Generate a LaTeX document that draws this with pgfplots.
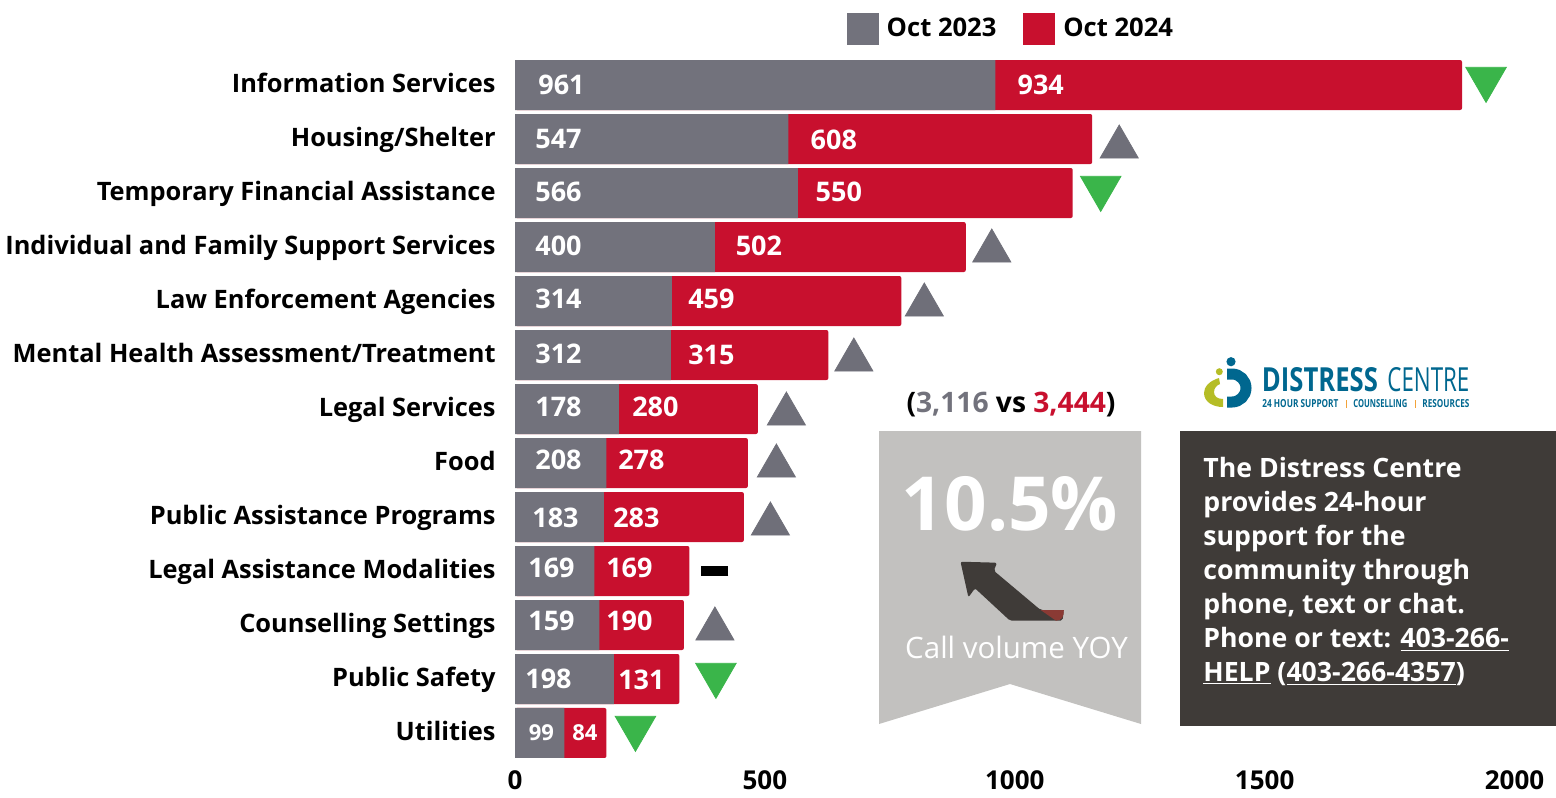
\documentclass[border=0pt]{standalone}
\usepackage{fontspec}
\setmainfont{Open Sans}
\usepackage{pgfplots}
\usepackage{pgfplotstable}
\pgfplotsset{compat=1.18}
\definecolor{oldbar}{HTML}{72727C}
\definecolor{newbar}{HTML}{C8102E}
\definecolor{upgray}{HTML}{6F6F79}
\definecolor{downgreen}{HTML}{3AB54A}
\definecolor{darkbox}{HTML}{3F3B38}
\definecolor{ribbon}{HTML}{C2C1BF}
\definecolor{logoblue}{HTML}{00678F}
\definecolor{logogreen}{HTML}{B5BD26}
\definecolor{logoorange}{HTML}{F2A33A}
\newcommand{\fs}[1]{\fontsize{#1}{#1}\selectfont}

% row: 0 = top. bar lengths as drawn (rows 6-10 do not follow their printed labels)
\pgfplotstableread{
row old new
0 961 934
1 547 608
2 566 550
3 400 502
4 314 459
5 312 315
6 208 278
7 183 283
8 178 280
9 159 190
10 169 169
11 198 131
12 99 84
}\calls

% value labels, x and y where the text sits
\pgfplotstableread{
x y label
93 0 961
87 1 547
87 1.98 566
87 2.98 400
87 3.96 314
87 4.98 312
87 5.96 178
87 6.945 208
81 8.02 183
73 8.945 169
73 9.925 159
67 11 198
}\oldlabels
\pgfplotstableread{
x y label
1052 0 934
638 1.02 608
648 1.98 550
488 2.98 502
393 3.96 459
393 5 315
281 5.96 280
253 6.945 278
243 8.02 283
229 8.945 169
229 9.925 190
253 11.02 131
}\newlabels

\pgfplotstableread{
x y
1209 1.148
954 3.074
819 4.074
678 5.093
543 6.093
523 7.056
511 8.13
400 10.074
}\upmarks
\pgfplotstableread{
x y
1943 -0.111
1172 1.907
402 10.926
241 11.907
}\downmarks

\begin{document}
\begin{tikzpicture}
\path[use as bounding box] (0,0) rectangle (778pt,-398.5pt);
\begin{axis}[
    at={(257.5pt,-382.5pt)}, anchor=south west,
    scale only axis, width=520.5pt, height=355pt,
    xmin=0, xmax=2083,
    ymin=-0.556, ymax=12.593, y dir=reverse,
    clip=false,
    axis line style={draw=none},
    tick style={draw=none},
    major tick length=0pt,
    xtick={0,500,1000,1500,2000},
    ytick={0,...,12},
    yticklabels={Information Services,Housing/Shelter,Temporary Financial Assistance,Individual and Family Support Services,Law Enforcement Agencies,Mental Health Assessment/Treatment,Legal Services,Food,Public Assistance Programs,Legal Assistance Modalities,Counselling Settings,Public Safety,Utilities},
    /pgf/number format/assume math mode=true,
    /pgf/number format/1000 sep={},
    yticklabel style={font=\fs{12.7}\bfseries, inner sep=0pt, xshift=-9.5pt, yshift=-0.5pt, text height=10pt, text depth=3.5pt},
    xticklabel style={font=\fs{13}\bfseries, inner sep=0pt, yshift=-2.5pt},
    legend style={draw=none, fill=none, at={(0.3127,1.066)}, anchor=north west, legend columns=2, font=\fs{12.8}\bfseries,
        /tikz/every even column/.append style={column sep=11.5pt}},
    legend cell align=left,
    legend image code/.code={\fill[#1] (0pt,-7.75pt) rectangle (15.5pt,7.75pt);},
]
\addlegendimage{oldbar}
\addlegendentry{\hspace{2pt}Oct 2023}
\addlegendimage{newbar}
\addlegendentry{\hspace{2pt}Oct 2024}

\addplot[xbar, bar width=25pt, bar shift=0pt, fill=newbar, draw=none, rounded corners=1pt, forget plot]
    table[x expr=\thisrow{old}+\thisrow{new}, y=row] {\calls};
\addplot[xbar, bar width=25pt, bar shift=0pt, fill=oldbar, draw=none, forget plot]
    table[x=old, y=row] {\calls};

\addplot[only marks, mark=none, forget plot, nodes near coords, point meta=explicit symbolic,
    every node near coord/.style={anchor=center, font=\fs{13.5}\bfseries, text=white}]
    table[x=x, y=y, meta=label] {\oldlabels};
\addplot[only marks, mark=none, forget plot, nodes near coords, point meta=explicit symbolic,
    every node near coord/.style={anchor=center, font=\fs{13.5}\bfseries, text=white}]
    table[x=x, y=y, meta=label] {\newlabels};
% the last row has smaller text
\addplot[only marks, mark=none, forget plot, nodes near coords, point meta=explicit symbolic,
    every node near coord/.style={anchor=center, font=\fs{11}\bfseries, text=white}]
    table[x=x, y=y, meta=label] {
x y label
53 12 99
140 12 84
};

\addplot[only marks, mark=triangle*, mark size=11pt, forget plot, upgray,
    mark options={draw=none, fill=upgray}] table[x=x, y=y] {\upmarks};
\addplot[only marks, mark=triangle*, mark size=11.7pt, forget plot, downgreen,
    mark options={draw=none, fill=downgreen, rotate=180}] table[x=x, y=y] {\downmarks};
\addplot[only marks, mark=-, mark size=6.75pt, forget plot, black,
    mark options={line width=5pt}] coordinates {(400,9)};
\end{axis}

% everything else in reference pixels
\begin{scope}[x=0.5pt, y=-0.5pt]
\node[anchor=center, font=\fs{14.1}\bfseries, inner sep=0pt] at (1011,405)
    {(\textcolor{oldbar}{3,116} vs \textcolor{newbar}{3,444})};

\fill[ribbon] (879,431) -- (1141,431) -- (1141,724) -- (1010,684) -- (879,724) -- cycle;
\node[anchor=center, font=\fs{37.3}\bfseries, text=white, inner sep=0pt] at (1010,504) {10.5\%};
\fill[darkbox, rounded corners=1pt] (960.5,561.7) -- (997,562.7) -- (993.8,570.7) -- (1040.6,610)
    -- (1063.8,610) -- (1062.5,620.7) -- (1010,620.7) -- (975,588.3) -- (968.4,597.3) -- cycle;
\fill[fill={rgb,255:red,138;green,58;blue,52}] (1040.6,610) -- (1063.8,610) .. controls (1064,616) and (1062,620.7) .. (1056,620.7) -- cycle;
\node[anchor=center, font=\fs{14.75}, text=white, inner sep=0pt] at (1016.5,647.5) {Call volume YOY};

\fill[darkbox] (1180,431) rectangle (1556,726);
\begin{scope}[every node/.style={anchor=base west, inner sep=0pt, text=white, font=\fs{13.33}\bfseries}]
\node at (1203,477) {The Distress Centre};
\node at (1203,511) {provides 24-hour};
\node at (1203,545) {support for the};
\node at (1203,579) {community through};
\node at (1203,613) {phone, text or chat.};
\node at (1203,647) {Phone or text: \underline{403-266-}};
\node at (1203,681) {\underline{HELP} (\underline{403-266-4357})};
\end{scope}

% logo
\fill[logoblue] (1231,361.7) circle[radius=4.6];
\fill[logogreen] (1219.3,371.7) circle[radius=3.5];
\draw[logoblue, line width=5.5pt] (1227,374) -- (1232,374) arc[start angle=90, end angle=-90, x radius=14, y radius=-14] -- (1227,402);
\fill[logogreen] (1219,378) .. controls (1209,381) and (1204,387) .. (1204,393) .. controls (1204,402) and (1213,407) .. (1223,407)
    -- (1223,399) .. controls (1217,399) and (1214,396) .. (1214,392) .. controls (1214,388) and (1217,385) .. (1220,384) -- cycle;
\begin{scope}[every node/.style={anchor=south west, inner sep=0pt, text=logoblue}]
\node at (1261.5,392.5) {\resizebox{58pt}{12pt}{\bfseries DISTRESS}};
\node at (1387,392.5) {\resizebox{41pt}{12pt}{CENTRE}};
\node at (1262,408) {\resizebox{38pt}{4pt}{\bfseries 24 HOUR SUPPORT}};
\node at (1353,408) {\resizebox{27pt}{4pt}{\bfseries COUNSELLING}};
\node at (1422,408) {\resizebox{23.5pt}{4pt}{\bfseries RESOURCES}};
\end{scope}
\fill[logoorange] (1345.5,400) rectangle (1346.8,408);
\fill[logoorange] (1414.5,400) rectangle (1415.8,408);
\end{scope}
\end{tikzpicture}
\end{document}
